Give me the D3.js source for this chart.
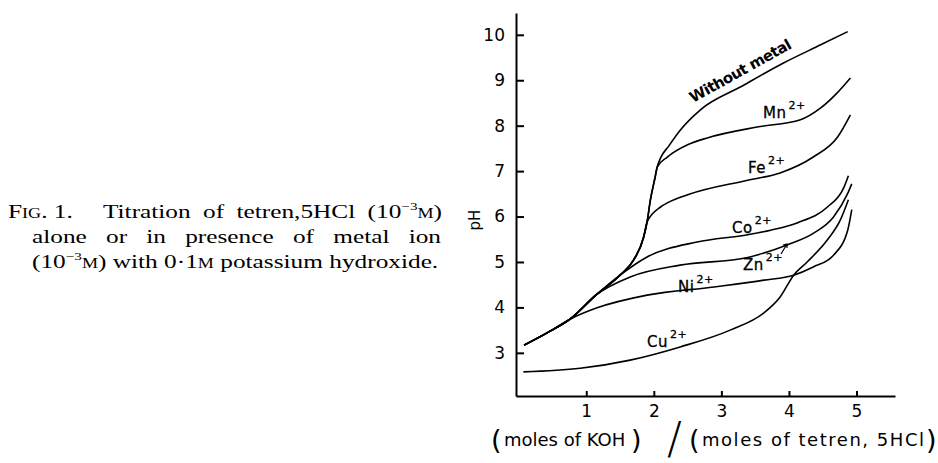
<!DOCTYPE html>
<html>
<head>
<meta charset="utf-8">
<script src="https://cdn.jsdelivr.net/npm/d3@7"></script>
<style>
  body { margin: 0; background: #fff; }
  svg { display: block; }
  .axis path, .axis line { stroke: #000; stroke-width: 2px; }
  .axis text { font-family: "DejaVu Sans", sans-serif; font-size: 17px; fill: #000; }
  .lab { font-family: "DejaVu Sans", sans-serif; font-size: 15px; fill: #000; }
  .cap { font-family: "Liberation Serif", "DejaVu Serif", serif; fill: #000; }
</style>
</head>
<body>
<div id="chart"></div>
<script>
// shared lower part of the titration curves (moles KOH per mole tetren, pH)
var trunk = [[0.08,3.17],[0.42,3.44],[0.76,3.74],[1.15,4.28],[1.5,4.71],[1.7,5.04],
             [1.85,5.55],[1.9,5.88],[1.95,6.37],[2.02,6.87],[2.05,7.09]];

var withoutMetal = [[2.1,7.29],[2.22,7.55],[2.39,7.9],[2.69,8.35],[3.28,8.85],[3.92,9.38],[4.47,9.78],[4.87,10.07]];
var mn = [[2.2,7.31],[2.5,7.58],[2.79,7.73],[3.53,7.97],[4.17,8.13],[4.47,8.39],[4.7,8.7],[4.91,9.05]];
var fe = [[2.1,6.21],[2.2,6.3],[2.5,6.48],[3.39,6.8],[3.87,6.96],[4.36,7.31],[4.72,7.75],[4.91,8.24]];
var co = [[1.9,5.11],[2.64,5.44],[3.39,5.6],[3.73,5.7],[4.12,5.86],[4.57,6.21],[4.81,6.63],[4.88,6.9]];
var zn = [[1.65,4.67],[2.39,4.93],[3.39,5.1],[3.98,5.38],[4.36,5.63],[4.66,5.99],[4.87,6.51],[4.93,6.72]];
var ni = [[1.16,3.99],[1.9,4.27],[2.89,4.45],[3.63,4.6],[4.07,4.71],[4.36,4.89],[4.66,5.15],[4.87,5.7],[4.93,6.15]];
var cu = [[0.07,2.58],[0.91,2.66],[1.65,2.84],[2.39,3.13],[3.13,3.5],[3.63,3.88],[3.87,4.23],[4.07,4.71],
          [4.27,5.0],[4.57,5.49],[4.76,5.92],[4.88,6.37]];

var xTicks = [1, 2, 3, 4, 5];
var yTicks = [3, 4, 5, 6, 7, 8, 9, 10];

// number of trunk points each curve shares before branching off
var series = [
  { pts: trunk.concat(withoutMetal) },
  { pts: trunk.concat(mn) },
  { pts: trunk.slice(0, 8).concat(fe) },
  { pts: trunk.slice(0, 5).concat(co) },
  { pts: trunk.slice(0, 4).concat(zn) },
  { pts: trunk.slice(0, 3).concat(ni) },
  { pts: cu }
];

var w = 938, h = 463;
var svg = d3.select("#chart").append("svg").attr("width", w).attr("height", h);

var x = d3.scaleLinear().domain([-0.04, 5.57]).range([516, 895]);
var y = d3.scaleLinear().domain([2.05, 10.48]).range([396, 13]);

svg.append("g")
    .attr("class", "axis")
    .attr("transform", "translate(0,396)")
    .call(d3.axisBottom(x).tickValues(xTicks).tickSizeInner(-5).tickSizeOuter(0).tickPadding(9).tickFormat(d3.format("d")));

svg.append("g")
    .attr("class", "axis")
    .attr("transform", "translate(516,0)")
    .call(d3.axisLeft(y).tickValues(yTicks).tickSizeInner(-8).tickSizeOuter(0).tickPadding(11).tickFormat(d3.format("d")));

var line = d3.line()
    .x(function(d) { return x(d[0]); })
    .y(function(d) { return y(d[1]); })
    .curve(d3.curveMonotoneX);

svg.selectAll("path.curve")
    .data(series)
    .enter().append("path")
    .attr("class", "curve")
    .attr("d", function(d) { return line(d.pts); })
    .attr("fill", "none")
    .attr("stroke", "#000")
    .attr("stroke-width", 1.6);

// curve labels
svg.append("text")
    .attr("class", "lab")
    .attr("transform", "translate(693,103) rotate(-29)")
    .attr("font-weight", "bold")
    .attr("font-size", "13px")
    .attr("textLength", 114)
    .text("Without metal");

var ions = [
  { name: "Mn", x: 763, y: 118 },
  { name: "Fe", x: 748, y: 173 },
  { name: "Co", x: 732, y: 233 },
  { name: "Zn", x: 743, y: 270 },
  { name: "Ni", x: 678, y: 292 },
  { name: "Cu", x: 647, y: 347 }
];
ions.forEach(function(d) {
  var t = svg.append("text").attr("class", "lab").attr("x", d.x).attr("y", d.y)
      .attr("font-size", "16px").attr("letter-spacing", "0.5")
      .attr("stroke", "#000").attr("stroke-width", 0.3);
  t.append("tspan").text(d.name);
  t.append("tspan").attr("dx", 2).attr("dy", -9).attr("font-size", "11px").text("2+");
});

// arrow from Zn label to its curve
svg.append("path")
    .attr("d", "M781,254 L787,244 M783,245 L787,244 L787,248")
    .attr("fill", "none").attr("stroke", "#000").attr("stroke-width", 1.2);

// axis titles
svg.append("text")
    .attr("class", "lab")
    .attr("transform", "translate(480,220) rotate(-90)")
    .attr("text-anchor", "middle")
    .attr("font-size", "18px")
    .text("pH");

var xt = svg.append("g").attr("class", "lab");
xt.append("text").attr("x", 491).attr("y", 449).attr("font-size", "27px").text("(");
xt.append("text").attr("x", 504).attr("y", 446).attr("font-size", "18px").text("moles of KOH");
xt.append("text").attr("x", 631).attr("y", 449).attr("font-size", "27px").text(")");
xt.append("text").attr("x", 667).attr("y", 454).attr("font-size", "44px").attr("font-weight", "100").text("/");
xt.append("text").attr("x", 689).attr("y", 449).attr("font-size", "27px").text("(");
xt.append("text").attr("x", 702).attr("y", 446).attr("font-size", "18px").attr("textLength", 222).text("moles of tetren, 5HCl");
xt.append("text").attr("x", 926).attr("y", 449).attr("font-size", "27px").text(")");

// caption: glyphs widened to fit the last line, other lines spread to the justified width
var fs = 19;
function capLine(x0, yb, sx, parts) {
  var t = svg.append("text").attr("class", "cap").attr("font-size", fs + "px")
      .attr("transform", "translate(" + x0 + "," + yb + ") scale(" + sx + ",1)");
  parts.forEach(function(p) {
    var s = t.append("tspan").text(p.t);
    if (p.sc) s.style("font-variant", "small-caps");
    if (p.sup) s.attr("font-size", (fs * 0.6) + "px").attr("dy", -fs * 0.4);
    if (p.down) s.attr("dy", fs * 0.4);
  });
  return t;
}
function spread(t, width, sx) {
  var natural = t.node().getComputedTextLength();
  var gaps = t.text().split(" ").length - 1;
  if (gaps > 0) t.attr("word-spacing", Math.max(0, (width / sx - natural) / gaps));
}

var lastParts = [{ t: "(10" }, { t: "−3", sup: true }, { t: "m", sc: true, down: true }, { t: ") with 0·1" },
                 { t: "m", sc: true }, { t: " potassium hydroxide." }];
var probe = capLine(32, 268, 1, lastParts);
var sx = (437 - 32) / probe.node().getComputedTextLength();
probe.remove();

capLine(32, 268, sx, lastParts);
capLine(8, 218, sx, [{ t: "Fig. 1.", sc: true }]);
spread(capLine(103, 218, sx, [{ t: "Titration of tetren,5HCl (10" }, { t: "−3", sup: true },
                              { t: "m", sc: true, down: true }, { t: ")" }]), 442 - 103, sx);
spread(capLine(32, 243, sx, [{ t: "alone or in presence of metal ion" }]), 441 - 32, sx);
</script>
</body>
</html>
